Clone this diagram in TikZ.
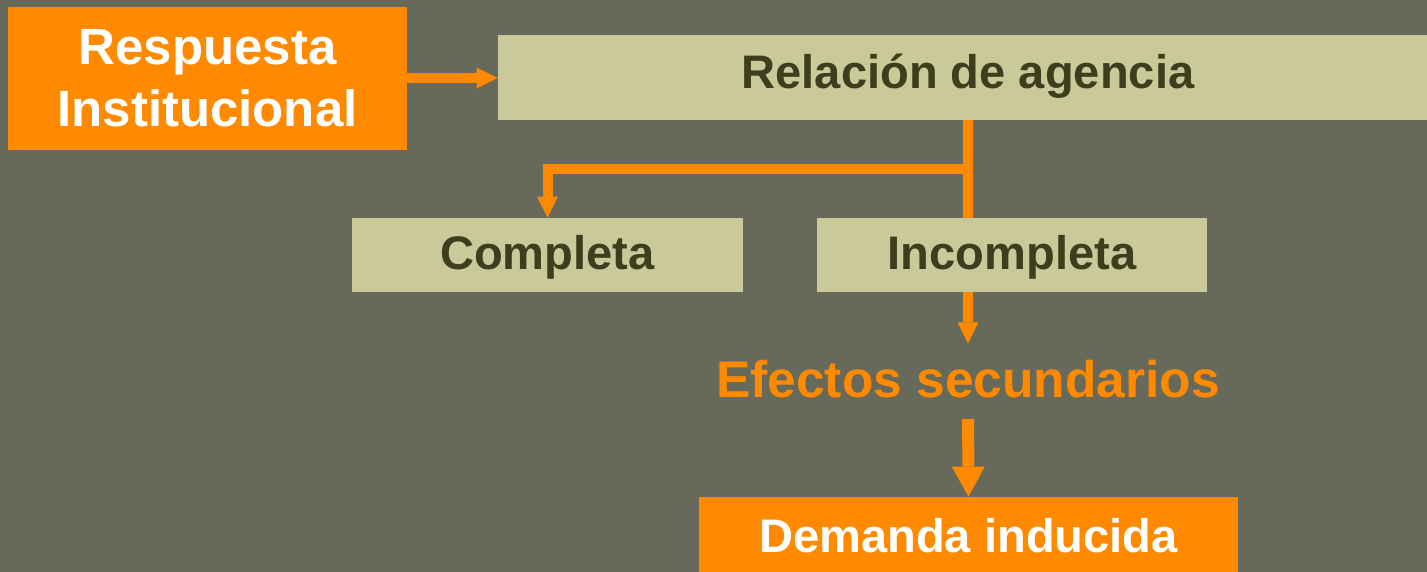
\documentclass[tikz,border=0pt]{standalone}
\usepackage{fontspec}
\setmainfont{Liberation Sans}
\usetikzlibrary{arrows.meta,calc,backgrounds}
\definecolor{fondo}{HTML}{67695B}
\definecolor{naranjo}{HTML}{FF8A00}
\definecolor{beige}{HTML}{C9C99A}
\definecolor{oscuro}{HTML}{3E3D1E}

\begin{document}
\begin{tikzpicture}[line join=round,
	caja/.style={fill=beige, text=oscuro, inner sep=0pt, text height=0.68cm, text depth=0.08cm,
		font=\bfseries\fontsize{26.8}{30}\selectfont},
	cajanar/.style={fill=naranjo, text=white, inner sep=0pt, align=center,
		font=\bfseries\fontsize{26.8}{30}\selectfont},
	flecha/.style={draw=naranjo, line width=0.2cm, -{Triangle[length=0.42cm, width=0.42cm, line width=0pt]}},
	flechagrande/.style={draw=naranjo, line width=0.24cm, -{Triangle[length=0.6cm, width=0.66cm, line width=0pt]}}]
	\def\ancho{28.54} \def\alto{11.44}
	\useasboundingbox (0,0) rectangle (\ancho,-\alto);
	% cajas
	\node[cajanar, minimum width=7.98cm, minimum height=2.86cm,
		font=\bfseries\fontsize{29}{35.5}\selectfont] (resp) at (4.15,-1.57) {Respuesta\\Institucional};
	\node[caja, minimum width=18.8cm, minimum height=1.7cm, text depth=0.22cm] (rel) at (19.36,-1.55) {Relación de agencia};
	\node[caja, minimum width=7.82cm, minimum height=1.48cm] (comp) at (10.95,-5.1) {Completa};
	\node[caja, minimum width=7.8cm, minimum height=1.48cm] (incomp) at (20.24,-5.1) {Incompleta};
	\node[text=naranjo, inner sep=0pt, anchor=base,
		font=\bfseries\fontsize{29.3}{34}\selectfont] (efe) at (19.36,-7.96) {Efectos secundarios};
	\node[cajanar, minimum width=10.78cm, minimum height=1.6cm, text height=0.68cm, text depth=0.08cm] (dem) at (19.37,-10.74) {Demanda inducida};
	\coordinate (codo) at ($(rel.south)+(0,-0.98)$);
	% flechas, detras de las cajas
	\begin{scope}[on background layer]
		\fill[fondo] (0,0) rectangle (\ancho,-\alto);
		\draw[flecha] (resp.east |- 0,-1.56) -- (rel.west |- 0,-1.56);
		\draw[flecha, shorten >=0.34cm] (rel.south) -- (efe.north);
		\draw[flecha] (codo) -| (comp.north);
		\draw[flechagrande, shorten <=0.4cm] (efe.south) -- (dem.north);
	\end{scope}
\end{tikzpicture}
\end{document}
